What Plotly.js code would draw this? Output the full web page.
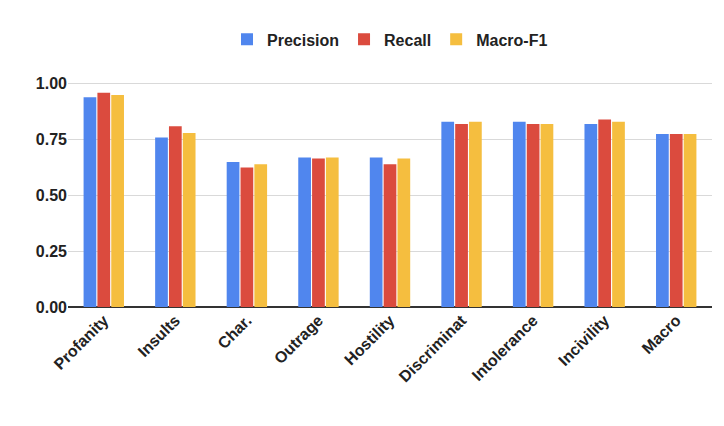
<!DOCTYPE html>
<html>
<head>
<meta charset="utf-8">
<script src="https://cdn.plot.ly/plotly-3.0.1.min.js"></script>
<style>html,body{margin:0;padding:0;background:#fff}</style>
</head>
<body>
<div id="chart" style="width:724px;height:426px"></div>
<script>
// categories and scores
const categories = ['Profanity', 'Insults', 'Char.', 'Outrage', 'Hostility', 'Discriminat', 'Intolerance', 'Incivility', 'Macro'];
const precision = [0.94, 0.76, 0.65, 0.67, 0.67, 0.83, 0.83, 0.82, 0.775];
const recall    = [0.96, 0.81, 0.625, 0.665, 0.64, 0.82, 0.82, 0.84, 0.775];
const macroF1   = [0.95, 0.78, 0.64, 0.67, 0.665, 0.83, 0.82, 0.83, 0.775];
const tickVals  = [0, 0.25, 0.5, 0.75, 1.0];
const tickText  = ['0.00', '0.25', '0.50', '0.75', '1.00'];

const series = [
    { name: 'Precision', y: precision, color: '#5086EE' },
    { name: 'Recall', y: recall, color: '#DB4B3E' },
    { name: 'Macro-F1', y: macroF1, color: '#F5BE3F' }
];

const traces = series.map(s => ({
    type: 'bar', name: s.name, x: categories, y: s.y,
    marker: { color: s.color }
}));

const layout = {
    width: 724, height: 426,
    paper_bgcolor: '#fff', plot_bgcolor: '#fff',
    font: { family: 'Liberation Sans, Arial, sans-serif', color: '#222', size: 16 },
    margin: { t: 66, b: 119, l: 68, r: 12 },
    barmode: 'group', bargap: 0.42, bargroupgap: 0.08,
    showlegend: true,
    legend: {
        orientation: 'h', x: 0.5, xanchor: 'center', y: 1.04, yanchor: 'bottom',
        font: { size: 16, weight: 'bold' }
    },
    xaxis: {
        tickangle: -45, tickfont: { size: 16, weight: 'bold' },
        showline: false, ticks: ''
    },
    yaxis: {
        range: [0, 1.08], tickvals: tickVals, ticktext: tickText,
        tickfont: { size: 16, weight: 'bold' },
        gridcolor: '#d9d9d9', zeroline: true, zerolinecolor: '#333', zerolinewidth: 1.5,
        ticks: ''
    }
};

Plotly.newPlot('chart', traces, layout, { displayModeBar: false, staticPlot: true });
</script>
</body>
</html>
